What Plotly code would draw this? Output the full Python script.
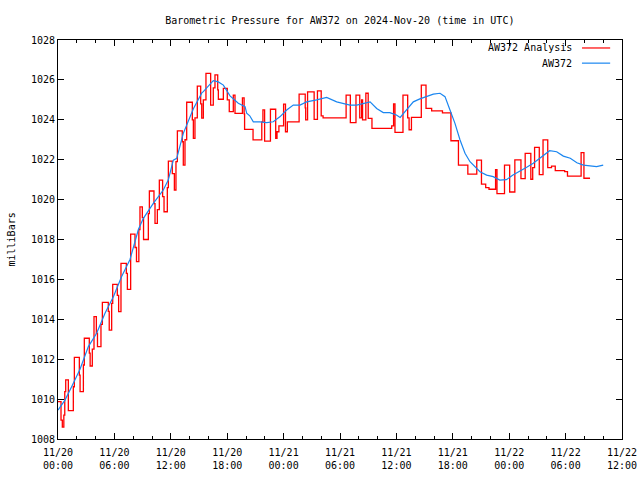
import plotly.graph_objects as go
import pandas as pd

BASE = pd.Timestamp("2024-11-20 00:00")

# AW372 Analysis (red step line): hours since 11/20 00:00 UTC, millibars
analysis_hours = [
    0.0, 0.32, 0.46, 0.62, 0.72, 0.82, 1.1, 1.63, 1.74, 2.27, 2.35, 2.7, 2.8, 3.33, 3.42,
    3.65, 3.83, 4.08, 4.2, 4.57, 4.72, 5.35, 5.45, 5.71, 5.82, 6.31, 6.45, 6.7, 7.27, 7.38,
    7.73, 8.19, 8.35, 8.6, 8.72, 8.97, 9.1, 9.61, 9.72, 10.21, 10.32, 10.57, 10.78, 11.13,
    11.28, 11.63, 11.74, 12.16, 12.38, 12.55, 12.7, 13.22, 13.33, 13.51, 13.69, 14.29, 14.4,
    14.57, 14.82, 15.18, 15.29, 15.46, 15.74, 16.24, 16.52, 16.7, 16.99, 17.06, 17.59, 18.01,
    18.22, 18.65, 18.83, 19.62, 19.8, 19.85, 20.75, 21.68, 21.8, 21.98, 22.6, 23.16, 23.3,
    23.5, 24.0, 24.2, 24.4, 25.65, 26.3, 26.35, 26.55, 27.25, 27.6, 28.0, 28.2, 30.65, 31.1,
    31.7, 32.1, 32.3, 32.4, 32.75, 33.0, 33.4, 35.5, 35.7, 35.85, 36.7, 37.2, 37.35, 37.6,
    38.65, 39.15, 39.75, 40.9, 41.8, 42.6, 43.6, 44.55, 45.05, 45.5, 45.85, 46.55, 46.7,
    47.5, 48.05, 48.6, 49.25, 49.7, 50.3, 50.5, 50.7, 51.2, 51.6, 52.1, 52.5, 52.9, 53.9,
    54.2, 55.65, 55.95, 56.6,
]
analysis_mb = [
    1009.87, 1008.95, 1008.6, 1009.2, 1010.37, 1010.96, 1009.42, 1010.62, 1012.09, 1011.2,
    1010.37, 1011.71, 1013.05, 1012.3, 1011.66, 1012.5, 1014.13, 1013.3, 1012.63, 1013.75,
    1014.85, 1014.4, 1013.46, 1014.8, 1015.75, 1015.2, 1014.38, 1016.8, 1016.3, 1015.5,
    1018.27, 1017.6, 1016.89, 1018.5, 1019.64, 1019.1, 1018.0, 1019.3, 1020.43, 1019.8,
    1018.81, 1019.5, 1020.98, 1020.15, 1019.39, 1020.6, 1021.93, 1021.3, 1020.48, 1021.9,
    1023.44, 1022.9, 1021.73, 1023.0, 1024.88, 1024.0, 1023.07, 1024.1, 1025.69, 1024.8,
    1024.08, 1025.0, 1026.33, 1024.74, 1025.6, 1026.25, 1025.5, 1025.03, 1025.58, 1025.0,
    1024.41, 1025.24, 1024.32, 1025.1, 1024.3, 1023.52, 1022.99, 1023.9, 1024.5, 1022.93,
    1024.53, 1023.07, 1023.4, 1023.7, 1024.79, 1023.4, 1023.9, 1025.29, 1024.6, 1024.0,
    1025.4, 1024.02, 1025.45, 1024.2, 1024.1, 1025.24, 1023.86, 1025.24, 1024.1, 1025.0,
    1024.0, 1025.33, 1024.07, 1023.57, 1023.7, 1024.8, 1023.37, 1025.24, 1024.1, 1023.5,
    1024.12, 1025.74, 1024.57, 1024.45, 1024.35, 1022.95, 1021.73, 1021.28, 1021.98,
    1020.78, 1020.6, 1020.52, 1021.5, 1020.3, 1021.73, 1020.38, 1021.99, 1021.05, 1022.32,
    1021.02, 1021.6, 1022.62, 1021.25, 1022.99, 1021.6, 1021.68, 1021.45, 1021.4, 1021.18,
    1022.35, 1021.07, 1021.07,
]

# AW372 observations (blue line)
obs_hours = [
    0.0, 0.74, 1.45, 2.34, 3.23, 4.11, 5.0, 5.89, 6.77, 7.66, 8.55, 9.08, 10.14, 11.2,
    11.73, 12.27, 12.63, 13.33, 14.4, 15.3, 15.46, 16.52, 17.05, 17.59, 18.3, 19.18, 19.9,
    20.07, 20.4, 20.78, 21.49, 22.2, 22.9, 23.6, 24.33, 25.03, 25.74, 26.45, 27.52, 28.58,
    29.65, 30.35, 31.06, 31.78, 32.48, 33.2, 33.9, 34.6, 35.3, 36.0, 36.4, 37.1, 37.8, 38.5,
    39.2, 39.93, 40.64, 41.17, 41.7, 42.23, 42.77, 43.3, 43.83, 44.36, 44.89, 45.6, 46.3,
    47.0, 47.7, 48.4, 49.1, 49.86, 50.56, 51.28, 51.99, 52.3, 53.05, 53.76, 54.5, 55.2,
    55.9, 56.6, 57.3, 58.0,
]
obs_mb = [
    1009.45, 1009.95, 1010.62, 1011.5, 1012.63, 1013.3, 1014.3, 1015.13, 1016.14, 1017.0,
    1018.5, 1019.06, 1019.81, 1020.48, 1020.98, 1021.98, 1022.07, 1023.32, 1024.55, 1025.35,
    1025.41, 1025.96, 1025.9, 1025.74, 1025.2, 1024.83, 1024.66, 1024.33, 1024.2, 1023.9,
    1023.9, 1023.86, 1023.9, 1024.15, 1024.49, 1024.74, 1024.74, 1024.9, 1025.0, 1025.12,
    1024.9, 1024.83, 1024.74, 1024.74, 1024.83, 1024.9, 1024.57, 1024.36, 1024.36, 1024.24,
    1024.12, 1024.49, 1024.9, 1025.05, 1025.16, 1025.29, 1025.33, 1025.16, 1024.49, 1023.82,
    1022.99, 1022.32, 1021.9, 1021.65, 1021.4, 1021.23, 1021.15, 1020.98, 1021.0, 1021.23,
    1021.4, 1021.62, 1021.82, 1022.07, 1022.32, 1022.45, 1022.4, 1022.18, 1022.07, 1021.85,
    1021.73, 1021.68, 1021.65, 1021.73,
]

x_tick_hours = [0, 6, 12, 18, 24, 30, 36, 42, 48, 54, 60]
x_tick_labels = ["11/20<br>00:00", "11/20<br>06:00", "11/20<br>12:00", "11/20<br>18:00",
                 "11/21<br>00:00", "11/21<br>06:00", "11/21<br>12:00", "11/21<br>18:00",
                 "11/22<br>00:00", "11/22<br>06:00", "11/22<br>12:00"]
y_ticks = list(range(1008, 1029, 2))

RED = "#ff0000"
BLUE = "#1a86f0"
FONT = "DejaVu Sans Mono"


def to_time(hours):
    return [BASE + pd.Timedelta(hours=h) for h in hours]


fig = go.Figure()
fig.add_trace(go.Scatter(
    x=to_time(analysis_hours), y=analysis_mb, mode="lines", name="AW372 Analysis",
    line=dict(color=RED, width=1.3, shape="hv"), showlegend=False))
fig.add_trace(go.Scatter(
    x=to_time(obs_hours), y=obs_mb, mode="lines", name="AW372",
    line=dict(color=BLUE, width=1.2), showlegend=False))

fig.update_layout(
    width=640, height=480,
    margin=dict(l=58, r=18, t=40, b=41, autoexpand=False),
    paper_bgcolor="white", plot_bgcolor="white",
    font=dict(family=FONT, size=10, color="black"),
    title=dict(text="Barometric Pressure for AW372 on 2024-Nov-20 (time in UTC)",
               x=0.531, xanchor="center", y=0.958, yanchor="middle",
               font=dict(family=FONT, size=10, color="black")),
)

fig.update_xaxes(
    type="date", automargin=False,
    range=[BASE, BASE + pd.Timedelta(hours=60)],
    tickvals=to_time(x_tick_hours), ticktext=x_tick_labels,
    ticks="inside", ticklen=6, tickcolor="black", tickwidth=1,
    ticklabelstandoff=4,
    minor=dict(dtick=2 * 3600 * 1000, tick0=BASE, ticks="inside", ticklen=3,
               tickcolor="black", tickwidth=1, showgrid=False),
    showline=True, linecolor="black", linewidth=1, mirror="ticks",
    showgrid=False, zeroline=False,
    tickfont=dict(family=FONT, size=10, color="black"),
)
fig.update_yaxes(
    automargin=False,
    range=[1008, 1028],
    tickvals=y_ticks, ticktext=[str(v) for v in y_ticks],
    ticks="inside", ticklen=6, tickcolor="black", tickwidth=1,
    showline=True, linecolor="black", linewidth=1, mirror="ticks",
    showgrid=False, zeroline=False,
    tickfont=dict(family=FONT, size=10, color="black"),
)

# y-axis label
fig.add_annotation(text="milliBars", xref="paper", yref="paper", x=-0.0816, y=0.5,
                   xanchor="center", yanchor="middle", textangle=-90, showarrow=False,
                   font=dict(family=FONT, size=10, color="black"))

# legend (gnuplot style: text right-aligned, key line on the right)
legend_items = [("AW372 Analysis", RED, 0.98), ("AW372", BLUE, 0.942)]
for label, color, yy in legend_items:
    fig.add_annotation(text=label, xref="paper", yref="paper", x=0.915, y=yy,
                       xanchor="right", yanchor="middle", showarrow=False,
                       font=dict(family=FONT, size=10, color="black"))
    fig.add_shape(type="line", xref="paper", yref="paper", x0=0.929, x1=0.979,
                  y0=yy, y1=yy, line=dict(color=color, width=1.2))

fig.write_html("out.html", config={"displayModeBar": False},
               post_script="document.body.style.margin='0';document.body.style.overflow='hidden';")
